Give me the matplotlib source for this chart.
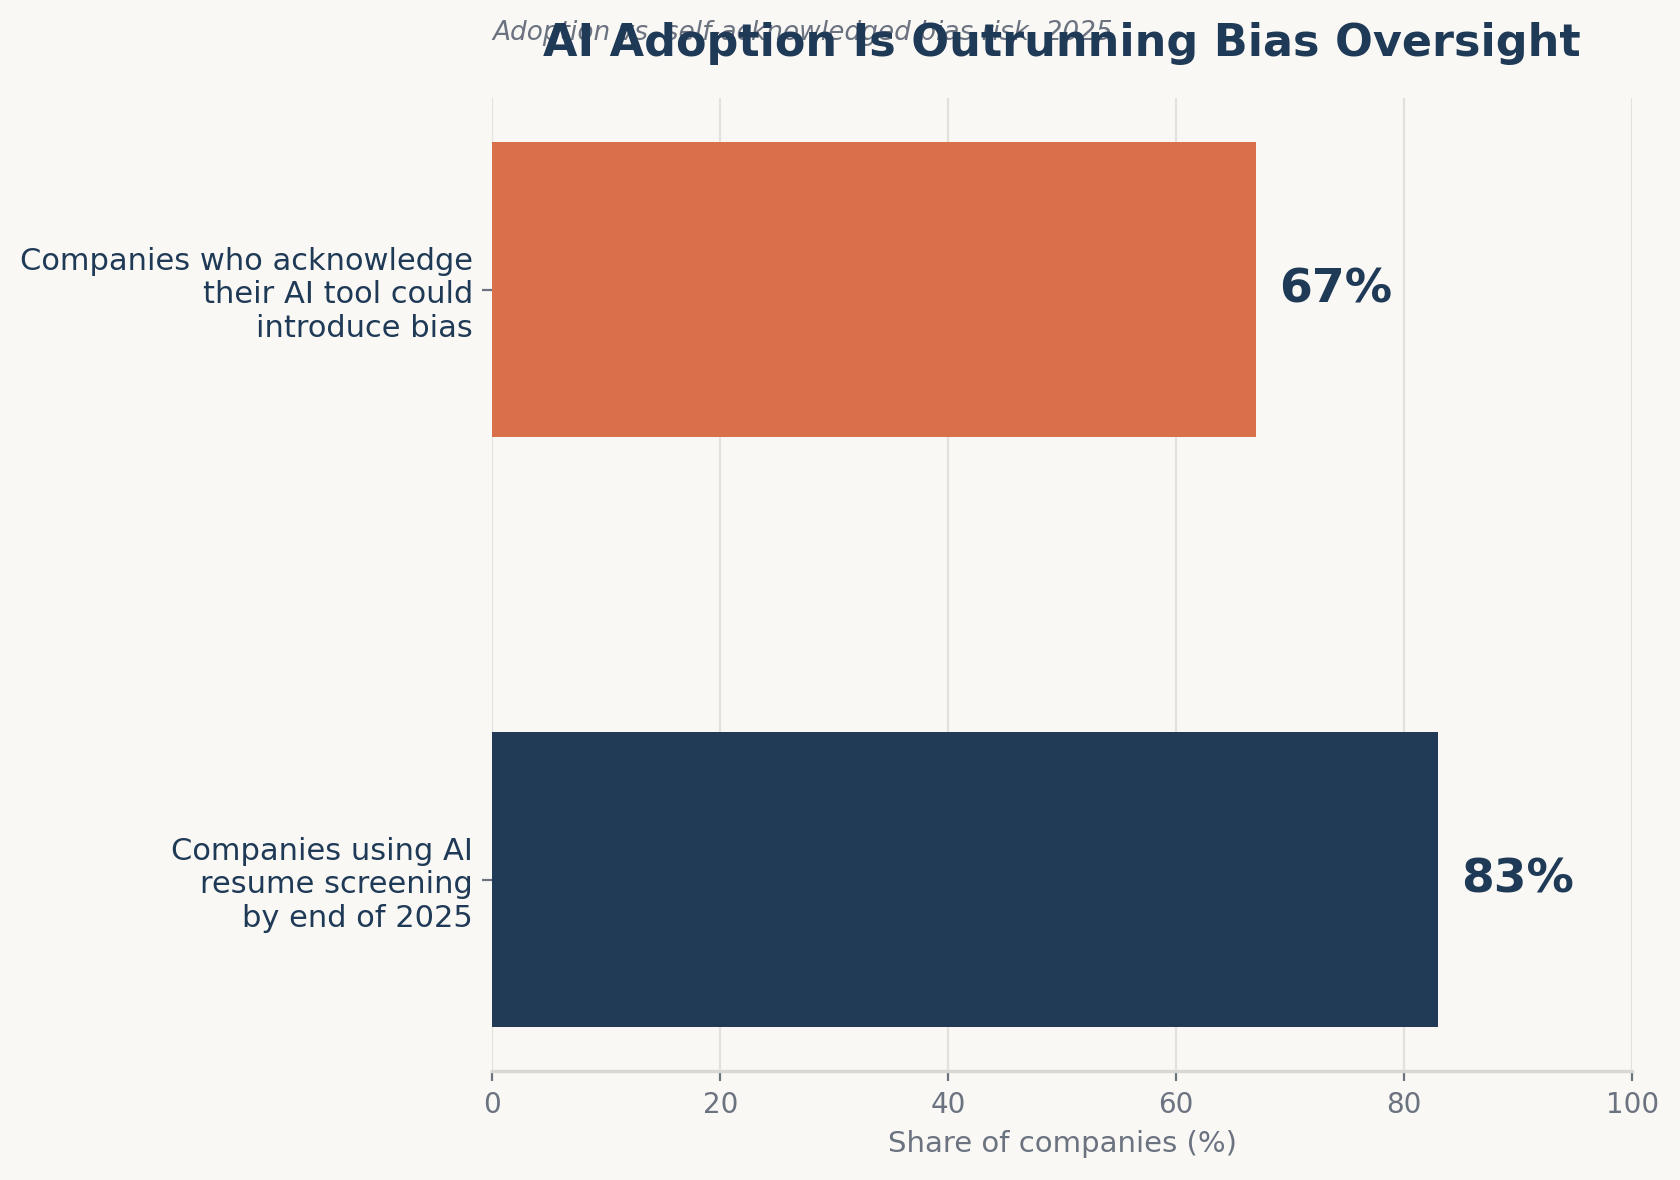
import matplotlib
matplotlib.use("Agg")
from matplotlib import pyplot as plt

# Data
categories = ["Companies using AI\nresume screening\nby end of 2025",
              "Companies who acknowledge\ntheir AI tool could\nintroduce bias"]
values = [83, 67]
colors = ["#213A56", "#D9704B"]

bg = "#FAF8F5"
navy = "#1F3A56"
grey = "#6B7280"

fig, ax = plt.subplots(figsize=(8.4, 5.9), dpi=200)
fig.patch.set_facecolor(bg)
ax.set_facecolor(bg)
fig.subplots_adjust(left=0.293, right=0.9715, top=0.917, bottom=0.092)

ax.barh(range(len(values)), values, height=0.5, color=colors, zorder=3)
for i, v in enumerate(values):
    ax.text(v + 2, i, f"{v}%", va="center", ha="left", fontsize=17,
            fontweight="bold", color=navy, zorder=4)

ax.set_yticks(range(len(categories)))
ax.set_yticklabels(categories, fontsize=11, color=navy)
ax.set_xlim(0, 100)
ax.set_xticks([0, 20, 40, 60, 80, 100])
ax.tick_params(axis="x", colors=grey, labelsize=10)
ax.tick_params(axis="y", colors=grey, labelcolor=navy)
ax.set_xlabel("Share of companies (%)", fontsize=10.5, color=grey)

ax.grid(axis="x", color="#E3E1DC", linewidth=0.8, zorder=0)
for s in ["top", "right", "left"]:
    ax.spines[s].set_visible(False)
ax.spines["bottom"].set_color("#D9D7D2")
ax.spines["bottom"].set_linewidth(1.2)

ax.set_title("AI Adoption Is Outrunning Bias Oversight", fontsize=16,
             fontweight="bold", color=navy, pad=15)
ax.text(0, 1.06, "Adoption vs. self-acknowledged bias risk, 2025",
        transform=ax.transAxes, fontsize=9.5, style="italic", color=grey,
        va="baseline", ha="left")

plt.savefig("out.png", dpi=200, facecolor=bg)
